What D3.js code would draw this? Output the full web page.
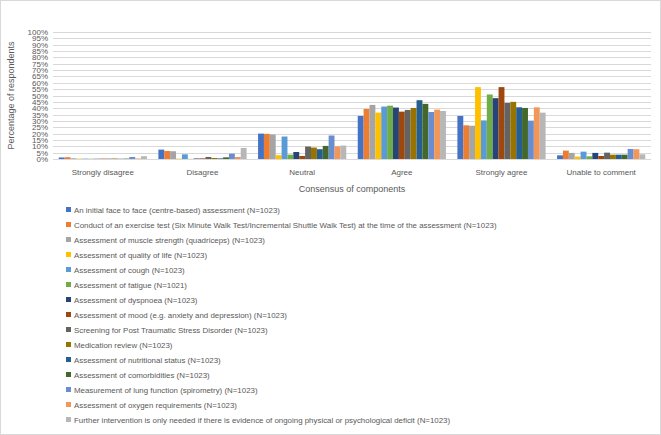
<!DOCTYPE html>
<html>
<head>
<meta charset="utf-8">
<script src="https://cdn.jsdelivr.net/npm/d3@7"></script>
<style>
  body { margin: 0; background: #fff; }
  text { font-family: "Liberation Sans", "DejaVu Sans", sans-serif; fill: #595959; }
</style>
</head>
<body>
<script>
var categories = ["Strongly disagree", "Disagree", "Neutral", "Agree", "Strongly agree", "Unable to comment"];

var seriesNames = [
  "An initial face to face (centre-based) assessment (N=1023)",
  "Conduct of an exercise test (Six Minute Walk Test/Incremental Shuttle Walk Test) at the time of the assessment (N=1023)",
  "Assessment of muscle strength (quadriceps) (N=1023)",
  "Assessment of quality of life (N=1023)",
  "Assessment of cough (N=1023)",
  "Assessment of fatigue (N=1021)",
  "Assessment of dyspnoea (N=1023)",
  "Assessment of mood (e.g. anxiety and depression) (N=1023)",
  "Screening for Post Traumatic Stress Disorder (N=1023)",
  "Medication review (N=1023)",
  "Assessment of nutritional status (N=1023)",
  "Assessment of comorbidities (N=1023)",
  "Measurement of lung function (spirometry) (N=1023)",
  "Assessment of oxygen requirements (N=1023)",
  "Further intervention is only needed if there is evidence of ongoing physical or psychological deficit (N=1023)"
];

// percentage per series, in category order
var values = [
  [1.2, 7.4, 20.0, 33.9, 33.9, 2.9],
  [1.4, 6.3, 19.8, 39.4, 26.5, 6.6],
  [0.6, 6.1, 19.3, 42.6, 26.2, 4.8],
  [0.3, 0.3, 3.0, 36.5, 56.6, 1.9],
  [0.3, 3.7, 17.7, 41.3, 30.4, 5.8],
  [0.2, 0.1, 3.4, 42.0, 50.8, 2.1],
  [0.2, 0.4, 5.5, 40.5, 47.9, 4.8],
  [0.3, 0.5, 2.4, 37.3, 56.6, 2.4],
  [0.3, 1.6, 9.8, 38.6, 44.2, 5.0],
  [0.4, 0.8, 9.0, 40.2, 45.0, 3.4],
  [0.2, 0.5, 7.7, 46.3, 40.7, 3.4],
  [0.3, 1.3, 10.3, 43.4, 40.2, 3.4],
  [1.6, 4.2, 18.5, 37.0, 30.2, 7.9],
  [0.4, 1.6, 10.0, 38.9, 40.7, 7.7],
  [2.2, 8.7, 10.6, 37.8, 36.5, 3.7]
];

var colors = ["#4472C4", "#ED7D31", "#A5A5A5", "#FFC000", "#5B9BD5", "#70AD47", "#264478",
  "#9E480E", "#636363", "#997300", "#255E91", "#43682B", "#698ED0", "#F1975A", "#B7B7B7"];

var yTicks = d3.range(0, 101, 5);

var width = 661, height = 435;
var svg = d3.select("body").append("svg").attr("width", width).attr("height", height);

svg.append("rect").attr("x", 0.5).attr("y", 0.5).attr("width", width - 1).attr("height", height - 1)
  .attr("fill", "#fff").attr("stroke", "#D9D9D9");

var plotLeft = 53, plotRight = 651, plotTop = 32, plotBottom = 159;

var x = d3.scaleBand().domain(categories).range([plotLeft, plotRight]).paddingInner(0.115).paddingOuter(0.0575);
var xs = d3.scaleBand().domain(d3.range(seriesNames.length)).range([0, x.bandwidth()]);
var y = d3.scaleLinear().domain([0, 100]).range([plotBottom, plotTop]);

// gridlines
svg.append("g").selectAll("line").data(yTicks).join("line")
  .attr("x1", plotLeft).attr("x2", plotRight)
  .attr("y1", function(d){ return Math.round(y(d)) + 0.5; })
  .attr("y2", function(d){ return Math.round(y(d)) + 0.5; })
  .attr("stroke", "#D9D9D9").attr("stroke-width", 1);

// y tick labels
svg.append("g").selectAll("text").data(yTicks).join("text")
  .attr("x", 48).attr("y", function(d){ return y(d) + 3; })
  .attr("text-anchor", "end").style("font-size", "8px")
  .text(function(d){ return d + "%"; });

// bars
var groups = svg.append("g").selectAll("g").data(seriesNames).join("g")
  .attr("fill", function(d, i){ return colors[i]; });
groups.selectAll("rect").data(function(d, i){ return values[i].map(function(v, j){ return {s: i, c: categories[j], v: v}; }); })
  .join("rect")
  .attr("x", function(d){ return x(d.c) + xs(d.s); })
  .attr("width", xs.bandwidth())
  .attr("y", function(d){ return y(d.v); })
  .attr("height", function(d){ return y(0) - y(d.v); });

// category labels
svg.append("g").selectAll("text").data(categories).join("text")
  .attr("x", function(d){ return x(d) + x.bandwidth() / 2; })
  .attr("y", 175).attr("text-anchor", "middle").style("font-size", "8px")
  .text(function(d){ return d; });

svg.append("text").attr("x", (plotLeft + plotRight) / 2).attr("y", 192).attr("text-anchor", "middle")
  .style("font-size", "9px").text("Consensus of components");

svg.append("text").attr("transform", "translate(14," + ((plotTop + plotBottom) / 2) + ") rotate(-90)")
  .attr("text-anchor", "middle").style("font-size", "9px").text("Percentage of respondents");

// legend
var legend = svg.append("g").selectAll("g").data(seriesNames).join("g")
  .attr("transform", function(d, i){ return "translate(66," + (210 + i * 15) + ")"; });
legend.append("rect").attr("x", 0).attr("y", -3).attr("width", 5).attr("height", 5)
  .attr("fill", function(d, i){ return colors[i]; });
legend.append("text").attr("x", 8).attr("y", 2.5).style("font-size", "7.9px")
  .text(function(d){ return d; });
</script>
</body>
</html>
